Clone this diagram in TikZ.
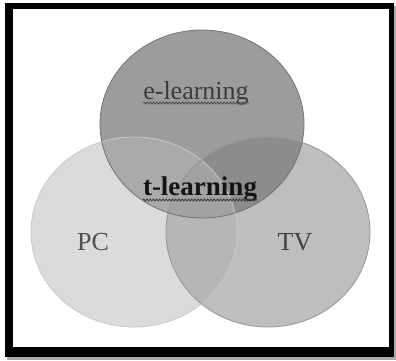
\documentclass[tikz,border=0pt]{standalone}
\usepackage{fontspec}
\setmainfont{Liberation Serif}
\usetikzlibrary{decorations.pathmorphing}
\definecolor{ctop}{RGB}{156,156,156}
\definecolor{cleft}{RGB}{219,219,219}
\definecolor{cright}{RGB}{190,190,190}
\definecolor{ctl}{RGB}{170,170,170}
\definecolor{ctr}{RGB}{140,140,140}
\definecolor{clr}{RGB}{182,182,182}
\definecolor{call}{RGB}{162,162,162}
\definecolor{ltop}{RGB}{115,115,115}
\definecolor{lleft}{RGB}{200,200,200}
\definecolor{lright}{RGB}{150,150,150}
\definecolor{shadowc}{RGB}{170,170,170}
\definecolor{tel}{RGB}{60,60,60}
\definecolor{ttl}{RGB}{20,20,20}
\definecolor{tpc}{RGB}{80,80,80}
\definecolor{ttv}{RGB}{65,65,65}
\definecolor{sqel}{RGB}{70,70,70}
\definecolor{sqtl}{RGB}{50,50,50}
\begin{document}
\begin{tikzpicture}[x=1pt,y=-1pt,
  rt/.style={x radius=102pt,y radius=94pt},
  rl/.style={x radius=103pt,y radius=95pt},
  rr/.style={x radius=102pt,y radius=95pt},
  lbl/.style={font=\fontsize{26}{30}\selectfont, inner sep=0pt, anchor=base},
  squig/.style={decorate, decoration={snake, amplitude=1.1pt, segment length=3.2pt}, line width=0.7pt}]
\useasboundingbox (0,0) rectangle (396,360);
% frame
\fill[shadowc] (7,6) rectangle (396,360);
\fill[black] (5,3) rectangle (394,357);
\fill[white] (13,9) rectangle (389,347);
% centres
\coordinate (T) at (202,124);
\coordinate (L) at (134,232);
\coordinate (R) at (268,232);
% base fills
\fill[cleft] (L) ellipse [rl];
\fill[cright] (R) ellipse [rr];
\fill[ctop] (T) ellipse [rt];
% overlaps
\begin{scope}
  \clip (L) ellipse [rl];
  \fill[clr] (R) ellipse [rr];
\end{scope}
\begin{scope}
  \clip (T) ellipse [rt];
  \fill[ctl] (L) ellipse [rl];
\end{scope}
\begin{scope}
  \clip (T) ellipse [rt];
  \fill[ctr] (R) ellipse [rr];
\end{scope}
\begin{scope}
  \clip (T) ellipse [rt];
  \clip (L) ellipse [rl];
  \fill[call] (R) ellipse [rr];
\end{scope}
% outlines
\draw[lleft, line width=0.8pt] (L) ellipse [rl];
\draw[lright, line width=0.8pt] (R) ellipse [rr];
\draw[ltop, line width=0.8pt] (T) ellipse [rt];
% labels
\node[lbl, text=tel] (el) at (196,99) {e-learning};
\node[lbl, font=\fontsize{27}{32}\selectfont\bfseries, text=ttl] (tl) at (200,195) {t-learning};
\node[lbl, text=tpc] (pc) at (93,250) {PC};
\node[lbl, text=ttv] (tv) at (295,250) {TV};
\draw[squig, sqel] ([yshift=-4pt]el.base west) -- ([yshift=-4pt]el.base east);
\draw[squig, sqtl] ([yshift=-5pt]tl.base west) -- ([yshift=-5pt]tl.base east);
\end{tikzpicture}
\end{document}
